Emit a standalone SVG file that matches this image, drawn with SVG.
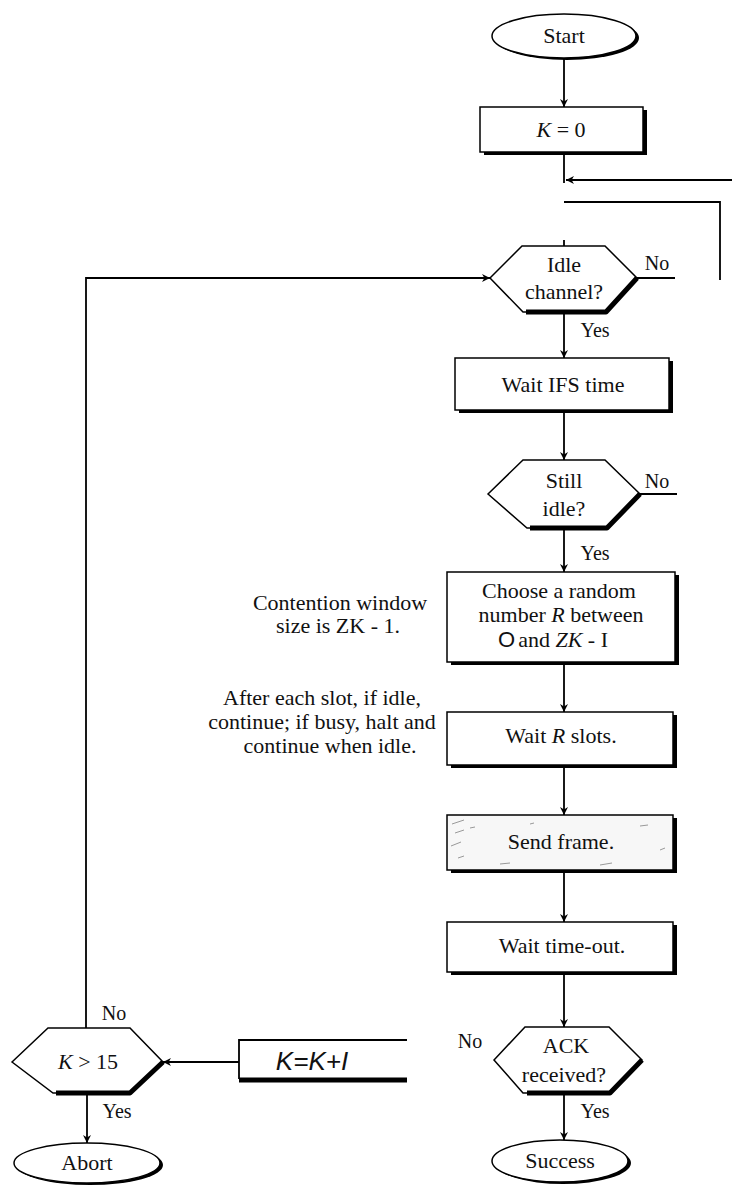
<svg xmlns="http://www.w3.org/2000/svg" width="732" height="1186" viewBox="0 0 732 1186">
<defs>
<marker id="ah" viewBox="0 0 10 10" refX="10" refY="5" markerWidth="8" markerHeight="11" markerUnits="userSpaceOnUse" orient="auto"><path d="M0,0 L10,5 L0,10 L3,5 z" fill="#000"/></marker>
</defs>
<style>
.t{font-family:"Liberation Serif","Times New Roman",serif;font-size:22px;fill:#111;text-anchor:middle}
.y{font-family:"Liberation Serif","Times New Roman",serif;font-size:20px;fill:#111;text-anchor:middle}
.s{font-family:"Liberation Sans",Arial,sans-serif;font-size:26px;font-style:italic;fill:#111;text-anchor:middle}
.box{fill:#fff;stroke:#000;stroke-width:1.5}
.sh{fill:#000}
.ln{fill:none;stroke:#000;stroke-width:1.8}
.thick{fill:none;stroke:#000;stroke-width:5;stroke-linejoin:round}
</style>
<g id="start">
<ellipse cx="567" cy="38" rx="72" ry="22" class="sh"/>
<ellipse cx="564" cy="36" rx="72" ry="22" class="box"/>
<text x="564" y="43" class="t">Start</text>
</g>
<g id="k0">
<rect x="484" y="110" width="163" height="45" class="sh"/>
<rect x="480" y="107" width="163" height="45" class="box"/>
<text x="561" y="137" class="t"><tspan font-style="italic">K</tspan> = 0</text>
</g>
<g id="idle">
<path d="M490,278 L522,246 L605,246 L637,278 L606,312 L523,312 Z" class="box"/>
<path d="M637,278 L606,312 L526,312" class="thick"/>
<text x="564" y="272" class="t">Idle</text>
<text x="564" y="299" class="t">channel?</text>
</g>
<g id="ifs">
<rect x="459" y="361" width="214" height="52" class="sh"/>
<rect x="455" y="358" width="214" height="52" class="box"/>
<text x="563" y="392" class="t">Wait IFS time</text>
</g>
<g id="still">
<path d="M488,494 L523,460 L605,460 L640,494 L607,528 L527,528 Z" class="box"/>
<path d="M640,494 L607,528 L530,528" class="thick"/>
<text x="564" y="488" class="t">Still</text>
<text x="564" y="516" class="t">idle?</text>
</g>
<g id="choose">
<rect x="451" y="575" width="228" height="90" class="sh"/>
<rect x="447" y="572" width="228" height="90" class="box"/>
<text x="559" y="598" class="t" font-size="21">Choose a random</text>
<text x="561" y="622" class="t" font-size="21">number <tspan font-style="italic">R</tspan> between</text>
<text x="553" y="647" class="t" font-size="21"><tspan font-family="Liberation Sans, Arial, sans-serif">O</tspan><tspan dx="3">and</tspan> <tspan font-style="italic">ZK</tspan> -  I</text>
</g>
<g id="note1">
<text x="340" y="610" class="t">Contention window</text>
<text x="338" y="633" class="t">size is ZK -  1.</text>
</g>
<g id="waitR">
<rect x="451" y="715" width="226" height="53" class="sh"/>
<rect x="447" y="712" width="226" height="53" class="box"/>
<text x="561" y="743" class="t">Wait <tspan font-style="italic">R</tspan> slots.</text>
</g>
<g id="note2">
<text x="322" y="705" class="t">After each slot, if idle,</text>
<text x="322" y="729" class="t">continue; if busy, halt and</text>
<text x="330" y="753" class="t">continue when idle.</text>
</g>
<g id="send">
<rect x="451" y="818" width="226" height="55" class="sh"/>
<rect x="447" y="815" width="226" height="55" fill="#f7f7f7" stroke="#000" stroke-width="1.5"/>
<path d="M452,824 l12,-4 M455,833 l9,-3 M451,846 l10,-4 M458,858 l6,-2 M470,828 l5,-1 M640,826 l8,-1 M660,850 l5,-2 M500,864 l10,-1 M600,865 l12,-2 M530,824 l4,-1" stroke="#999" stroke-width="1"/>
<text x="561" y="849" class="t">Send frame.</text>
</g>
<g id="timeout">
<rect x="451" y="925" width="226" height="50" class="sh"/>
<rect x="447" y="922" width="226" height="50" class="box"/>
<text x="562" y="953" class="t">Wait time-out.</text>
</g>
<g id="ack">
<path d="M494,1060 L525,1027 L609,1027 L642,1060 L610,1093 L523,1093 Z" class="box"/>
<path d="M642,1060 L610,1093 L527,1093" class="thick"/>
<text x="566" y="1053" class="t">ACK</text>
<text x="564" y="1082" class="t">received?</text>
</g>
<g id="kinc">
<path d="M239,1079 L239,1040 L407,1040" class="ln"/>
<path d="M239,1080 L407,1080" stroke="#000" stroke-width="5"/>
<text x="312" y="1070" class="s">K=K+I</text>
</g>
<g id="k15">
<path d="M12,1062 L48,1028 L130,1028 L163,1062 L130,1093 L53,1093 Z" class="box"/>
<path d="M163,1062 L130,1093 L56,1093" class="thick"/>
<text x="88" y="1069" class="t"><tspan font-style="italic">K</tspan> &gt; 15</text>
</g>
<g id="abort">
<ellipse cx="90" cy="1165" rx="73" ry="20" class="sh"/>
<ellipse cx="87" cy="1163" rx="73" ry="20" class="box"/>
<text x="87" y="1170" class="t">Abort</text>
</g>
<g id="success">
<ellipse cx="563" cy="1163" rx="68" ry="21" class="sh"/>
<ellipse cx="560" cy="1161" rx="68" ry="21" class="box"/>
<text x="560" y="1168" class="t">Success</text>
</g>
<g id="connectors">
<path d="M564,58 L564,107" class="ln" marker-end="url(#ah)"/>
<path d="M564,155 L564,183" class="ln"/>
<path d="M732,180 L566,180" class="ln" marker-end="url(#ah)"/>
<path d="M564,202 L720,202 L720,280" class="ln"/>
<path d="M564,240 L564,246" class="ln"/>
<path d="M637,278 L675,278" class="ln"/>
<path d="M86,1028 L86,278 L490,278" class="ln" marker-end="url(#ah)"/>
<path d="M564,314 L564,358" class="ln" marker-end="url(#ah)"/>
<path d="M564,413 L564,460" class="ln" marker-end="url(#ah)"/>
<path d="M640,494 L677,494" class="ln"/>
<path d="M564,530 L564,572" class="ln" marker-end="url(#ah)"/>
<path d="M564,665 L564,712" class="ln" marker-end="url(#ah)"/>
<path d="M564,768 L564,815" class="ln" marker-end="url(#ah)"/>
<path d="M564,873 L564,922" class="ln" marker-end="url(#ah)"/>
<path d="M564,975 L564,1027" class="ln" marker-end="url(#ah)"/>
<path d="M239,1062 L163,1062" class="ln" marker-end="url(#ah)"/>
<path d="M564,1095 L564,1140" class="ln" marker-end="url(#ah)"/>
<path d="M87,1095 L87,1143" class="ln" marker-end="url(#ah)"/>
<text x="657" y="270" class="y">No</text>
<text x="595" y="337" class="y">Yes</text>
<text x="657" y="488" class="y">No</text>
<text x="595" y="560" class="y">Yes</text>
<text x="470" y="1048" class="y">No</text>
<text x="595" y="1118" class="y">Yes</text>
<text x="114" y="1020" class="y">No</text>
<text x="117" y="1118" class="y">Yes</text>
</g>
</svg>
